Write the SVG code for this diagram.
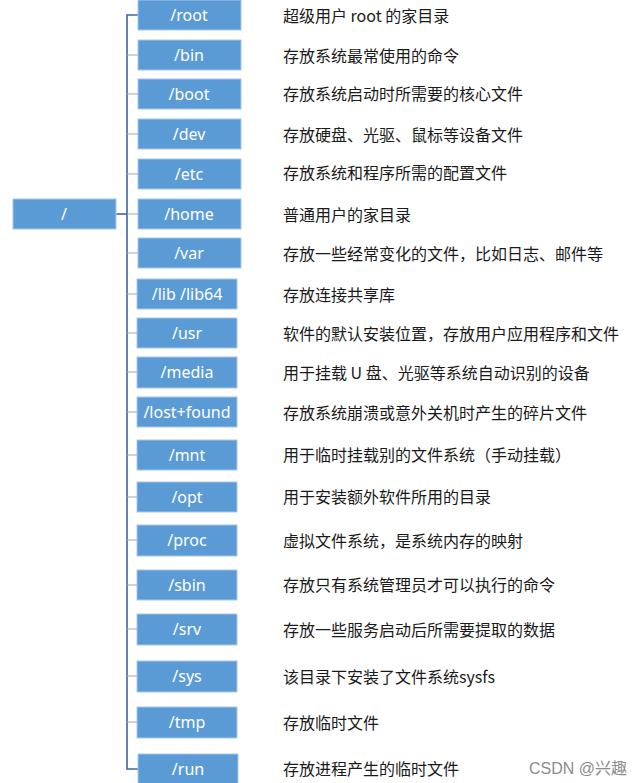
<svg xmlns="http://www.w3.org/2000/svg" width="635" height="783" viewBox="0 0 635 783">
<style>
.box{fill:#5b9bd5;stroke:#a9c6e8;stroke-width:1}
.lbl{font-family:"Noto Sans","Open Sans","DejaVu Sans",sans-serif;font-size:16px;fill:#ffffff;text-anchor:middle;dominant-baseline:central}
.desc{font-family:"Noto Sans CJK SC","Noto Sans",sans-serif;font-size:16px;fill:#1a1a1a;dominant-baseline:central}
.stub{stroke:#9aa6b4;stroke-width:1;fill:none}
.trunk{stroke:#3d65a0;stroke-width:1.6;fill:none}
.wm{font-family:"Liberation Sans","Noto Sans CJK SC",sans-serif;font-size:16px;fill:#8c8c8c}
</style>
<rect width="635" height="783" fill="#ffffff"/>
<g id="connectors">
<path class="trunk" d="M138,15 H127 V769 H138"/>
<path class="trunk" stroke-width="2.2" d="M116,214 H127"/>
<path class="stub" d="M127,55 H138 M127,94 H138 M127,134 H138 M127,174 H138 M127,214 H138 M127,253 H138 M127,294 H137 M127,333 H137 M127,372 H137 M127,412 H137 M127,455 H137 M127,497 H137 M127,540 H137 M127,585 H137 M127,629 H137 M127,676 H137 M127,722 H137"/>
</g>
<g id="node-root-slash"><rect class="box" x="13" y="199" width="103" height="30"/><text class="lbl" x="64" y="214">/</text></g>
<g id="node-root"><rect class="box" x="138" y="0" width="103" height="30"/><text class="lbl" x="189" y="15">/root</text><text class="desc" x="283" y="15">超级用户 root 的家目录</text></g>
<g id="node-bin"><rect class="box" x="138" y="40" width="103" height="30"/><text class="lbl" x="189" y="55">/bin</text><text class="desc" x="283" y="55">存放系统最常使用的命令</text></g>
<g id="node-boot"><rect class="box" x="138" y="79" width="103" height="30"/><text class="lbl" x="189" y="94">/boot</text><text class="desc" x="283" y="93">存放系统启动时所需要的核心文件</text></g>
<g id="node-dev"><rect class="box" x="138" y="119" width="103" height="30"/><text class="lbl" x="189" y="134">/dev</text><text class="desc" x="283" y="134">存放硬盘、光驱、鼠标等设备文件</text></g>
<g id="node-etc"><rect class="box" x="138" y="159" width="103" height="30"/><text class="lbl" x="189" y="174">/etc</text><text class="desc" x="283" y="172">存放系统和程序所需的配置文件</text></g>
<g id="node-home"><rect class="box" x="138" y="199" width="103" height="30"/><text class="lbl" x="189" y="214">/home</text><text class="desc" x="283" y="214">普通用户的家目录</text></g>
<g id="node-var"><rect class="box" x="138" y="238" width="103" height="30"/><text class="lbl" x="189" y="253">/var</text><text class="desc" x="283" y="253">存放一些经常变化的文件，比如日志、邮件等</text></g>
<g id="node-lib"><rect class="box" x="137" y="279" width="100" height="30"/><text class="lbl" x="187" y="294">/lib /lib64</text><text class="desc" x="283" y="294">存放连接共享库</text></g>
<g id="node-usr"><rect class="box" x="137" y="318" width="100" height="30"/><text class="lbl" x="187" y="333">/usr</text><text class="desc" x="283" y="333">软件的默认安装位置，存放用户应用程序和文件</text></g>
<g id="node-media"><rect class="box" x="137" y="357" width="100" height="31"/><text class="lbl" x="187" y="372">/media</text><text class="desc" x="283" y="372">用于挂载 U 盘、光驱等系统自动识别的设备</text></g>
<g id="node-lost"><rect class="box" x="137" y="397" width="100" height="30"/><text class="lbl" x="187" y="412">/lost+found</text><text class="desc" x="283" y="412">存放系统崩溃或意外关机时产生的碎片文件</text></g>
<g id="node-mnt"><rect class="box" x="137" y="440" width="100" height="30"/><text class="lbl" x="187" y="455">/mnt</text><text class="desc" x="283" y="454">用于临时挂载别的文件系统（手动挂载）</text></g>
<g id="node-opt"><rect class="box" x="137" y="482" width="100" height="30"/><text class="lbl" x="187" y="497">/opt</text><text class="desc" x="283" y="496">用于安装额外软件所用的目录</text></g>
<g id="node-proc"><rect class="box" x="137" y="525" width="100" height="31"/><text class="lbl" x="187" y="540">/proc</text><text class="desc" x="283" y="540">虚拟文件系统，是系统内存的映射</text></g>
<g id="node-sbin"><rect class="box" x="137" y="570" width="100" height="30"/><text class="lbl" x="187" y="585">/sbin</text><text class="desc" x="283" y="584">存放只有系统管理员才可以执行的命令</text></g>
<g id="node-srv"><rect class="box" x="137" y="614" width="100" height="31"/><text class="lbl" x="187" y="629">/srv</text><text class="desc" x="283" y="629">存放一些服务启动后所需要提取的数据</text></g>
<g id="node-sys"><rect class="box" x="137" y="661" width="100" height="31"/><text class="lbl" x="187" y="676">/sys</text><text class="desc" x="283" y="676">该目录下安装了文件系统sysfs</text></g>
<g id="node-tmp"><rect class="box" x="137" y="707" width="100" height="31"/><text class="lbl" x="187" y="722">/tmp</text><text class="desc" x="283" y="722">存放临时文件</text></g>
<g id="node-run"><rect class="box" x="138" y="754" width="100" height="31"/><text class="lbl" x="188" y="769">/run</text><text class="desc" x="283" y="768">存放进程产生的临时文件</text></g>
<text class="wm" x="529" y="774">CSDN @兴趣</text>
</svg>
